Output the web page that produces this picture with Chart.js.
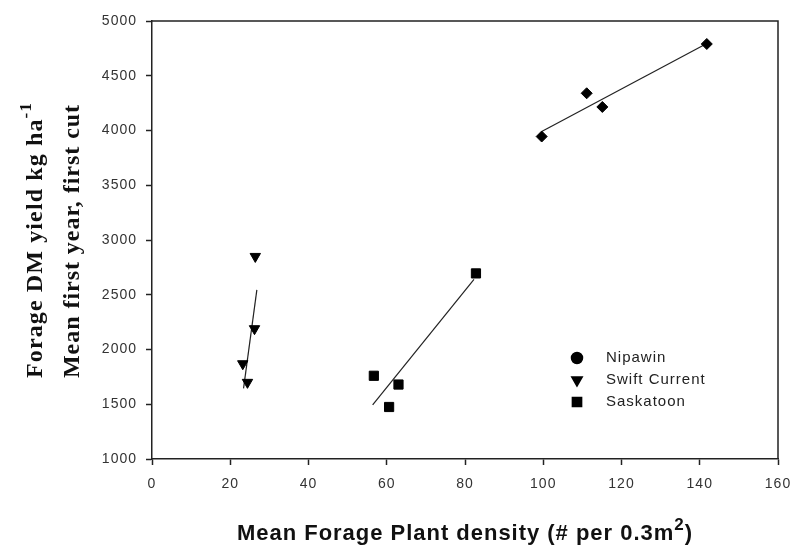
<!DOCTYPE html>
<html>
<head>
<meta charset="utf-8">
<script src="https://cdn.jsdelivr.net/npm/chart.js@4/dist/chart.umd.min.js"></script>
<style>
  html, body { margin: 0; padding: 0; background: #fff; }
  #wrap { width: 790px; height: 547px; }
</style>
</head>
<body>
<div id="wrap"><canvas id="c" width="790" height="547"></canvas></div>
<script>
// values
const nipawinX = [99.6, 111.1, 115.1, 141.8];
const nipawinY = [3945, 4340, 4215, 4790];
const swiftX = [23.2, 24.4, 26.2, 26.4];
const swiftY = [1870, 1700, 2190, 2850];
const saskX = [56.7, 60.6, 63.0, 82.8];
const saskY = [1760, 1475, 1680, 2695];

// fitted lines, endpoints as drawn
const nipawinFitX = [99.6, 141.8];
const nipawinFitY = [3990, 4795];
const swiftFitX = [23.4, 26.8];
const swiftFitY = [1645, 2545];
const saskFitX = [56.4, 82.3];
const saskFitY = [1495, 2640];

const xTicks = [0, 20, 40, 60, 80, 100, 120, 140, 160];
const yTicks = [1000, 1500, 2000, 2500, 3000, 3500, 4000, 4500, 5000];

const legendNames = ['Nipawin', 'Swift Current', 'Saskatoon'];

function pts(xs, ys) {
    return xs.map((x, i) => ({ x: x, y: ys[i] }));
}

function fitLine(xs, ys) {
    return {
        type: 'line',
        data: pts(xs, ys),
        borderColor: '#222',
        borderWidth: 1.2,
        pointRadius: 0,
        fill: false
    };
}

const tickFont = { family: 'Liberation Sans, Arial, sans-serif', size: 14 };
const SANS = '"Liberation Sans", Arial, sans-serif';
const SERIF = '"Liberation Serif", "Times New Roman", serif';

// draw a run of [text, font, rise] pieces stretched to a target width
function drawRun(ctx, parts, x0, y0, target) {
    ctx.letterSpacing = '0px';
    let w = 0, n = 0;
    parts.forEach(p => { ctx.font = p[1]; w += ctx.measureText(p[0]).width; n += p[0].length; });
    const sp = Math.max(0, (target - w) / n);
    ctx.letterSpacing = sp + 'px';
    let x = x0;
    parts.forEach(p => {
        ctx.font = p[1];
        ctx.fillText(p[0], x, y0 - p[2]);
        x += ctx.measureText(p[0]).width;
    });
    ctx.letterSpacing = '0px';
}

const decor = {
    id: 'decor',
    beforeDraw(chart) {
        chart.ctx.letterSpacing = '1px';
    },
    afterDraw(chart) {
        const ctx = chart.ctx;
        const a = chart.chartArea;
        ctx.save();
        ctx.strokeStyle = '#222';
        ctx.lineWidth = 1.5;
        ctx.beginPath();
        ctx.moveTo(a.left, a.top);
        ctx.lineTo(a.right, a.top);
        ctx.lineTo(a.right, a.bottom);
        ctx.stroke();

        ctx.fillStyle = '#111';
        ctx.textAlign = 'left';
        ctx.textBaseline = 'alphabetic';

        // x title
        drawRun(ctx, [
            ['Mean Forage Plant density (# per 0.3m', 'bold 22px ' + SANS, 0],
            ['2', 'bold 17px ' + SANS, 10],
            [')', 'bold 22px ' + SANS, 0]
        ], 237, 540, 456);

        // y titles, two rotated lines
        ctx.save();
        ctx.translate(42, 378);
        ctx.rotate(-Math.PI / 2);
        drawRun(ctx, [
            ['Forage DM yield kg ha', 'bold 24px ' + SERIF, 0],
            ['-1', 'bold 17px ' + SERIF, 11]
        ], 0, 0, 276);
        ctx.restore();

        ctx.save();
        ctx.translate(79, 378);
        ctx.rotate(-Math.PI / 2);
        drawRun(ctx, [
            ['Mean first year, first cut', 'bold 24px ' + SERIF, 0]
        ], 0, 0, 274);
        ctx.restore();

        // legend inside the plot
        const styles = [
            { style: 'circle', radius: 5.5, rotation: 0 },
            { style: 'triangle', radius: 6, rotation: 180 },
            { style: 'rect', radius: 6.5, rotation: 0 }
        ];
        ctx.font = '15px ' + SANS;
        ctx.textBaseline = 'middle';
        legendNames.forEach((name, i) => {
            const ly = 358 + i * 22;
            ctx.fillStyle = '#000';
            ctx.strokeStyle = '#000';
            Chart.helpers.drawPoint(ctx, {
                pointStyle: styles[i].style,
                radius: styles[i].radius,
                rotation: styles[i].rotation,
                borderWidth: 1
            }, 577, ly);
            ctx.fillStyle = '#222';
            ctx.letterSpacing = '1px';
            ctx.fillText(name, 606, ly);
            ctx.letterSpacing = '0px';
        });
        ctx.restore();
    }
};

new Chart(document.getElementById('c').getContext('2d'), {
    type: 'scatter',
    data: {
        datasets: [
            {
                label: 'Nipawin',
                data: pts(nipawinX, nipawinY),
                pointStyle: 'rectRot',
                pointRadius: 5.5,
                backgroundColor: '#000',
                borderColor: '#000'
            },
            {
                label: 'Swift Current',
                data: pts(swiftX, swiftY),
                pointStyle: 'triangle',
                rotation: 180,
                pointRadius: 6,
                backgroundColor: '#000',
                borderColor: '#000'
            },
            {
                label: 'Saskatoon',
                data: pts(saskX, saskY),
                pointStyle: 'rect',
                pointRadius: 6.5,
                backgroundColor: '#000',
                borderColor: '#000'
            },
            fitLine(nipawinFitX, nipawinFitY),
            fitLine(swiftFitX, swiftFitY),
            fitLine(saskFitX, saskFitY)
        ]
    },
    options: {
        responsive: false,
        animation: false,
        layout: { padding: { top: 21, right: 12, left: 0, bottom: 0 } },
        plugins: {
            legend: { display: false },
            tooltip: { enabled: false }
        },
        scales: {
            x: {
                type: 'linear',
                min: 0,
                max: 160,
                afterBuildTicks: s => { s.ticks = xTicks.map(v => ({ value: v })); },
                afterFit: s => { s.height = 88; s.paddingLeft = 0; s.paddingRight = 0; },
                grid: {
                    drawOnChartArea: false,
                    tickLength: 6,
                    tickColor: '#222',
                    tickWidth: 1.5
                },
                border: { color: '#222', width: 1.5 },
                ticks: { color: '#333', font: tickFont, padding: 11, maxRotation: 0, callback: v => String(v) }
            },
            y: {
                type: 'linear',
                min: 1000,
                max: 5000,
                afterBuildTicks: s => { s.ticks = yTicks.map(v => ({ value: v })); },
                afterFit: s => { s.width = 152; s.paddingTop = 0; s.paddingBottom = 0; },
                grid: {
                    drawOnChartArea: false,
                    tickLength: 6,
                    tickColor: '#222',
                    tickWidth: 1.5
                },
                border: { color: '#222', width: 1.5 },
                ticks: { color: '#333', font: tickFont, padding: 9, callback: v => String(v) }
            }
        }
    },
    plugins: [decor]
});
</script>
</body>
</html>
